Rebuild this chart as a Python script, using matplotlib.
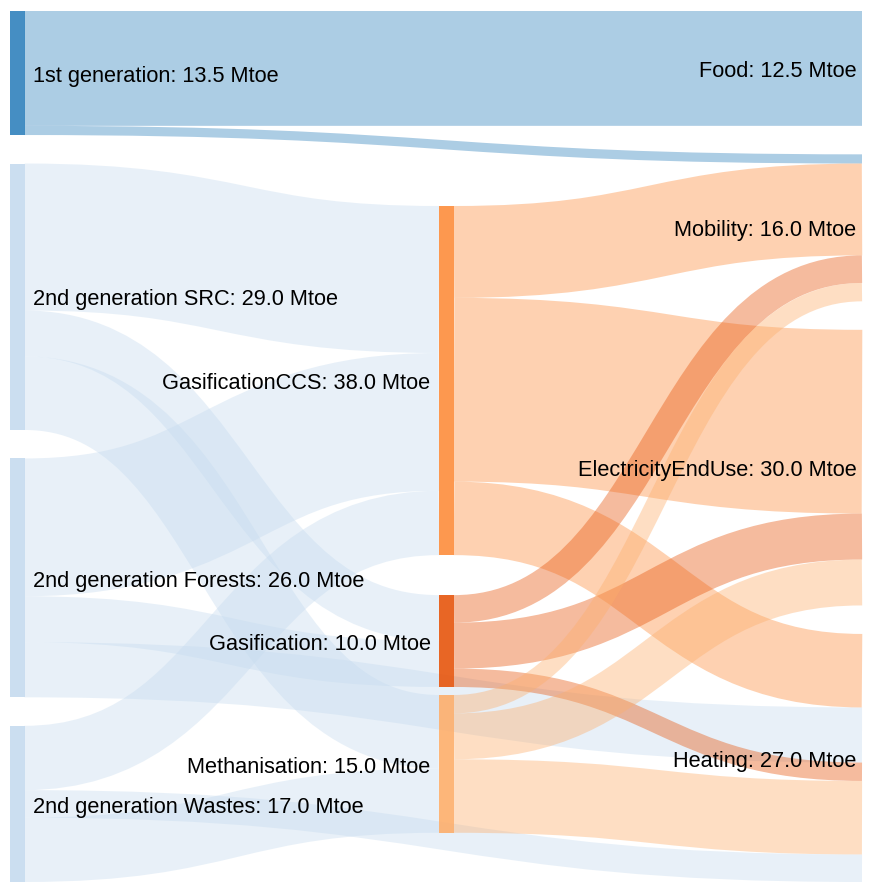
import matplotlib
matplotlib.use("Agg")
import matplotlib.pyplot as plt
from matplotlib.path import Path
from matplotlib.patches import PathPatch, Rectangle

# nodes
node_names = ["1st generation", "2nd generation SRC", "2nd generation Forests",
              "2nd generation Wastes", "GasificationCCS", "Gasification",
              "Methanisation", "Food", "Mobility", "ElectricityEndUse", "Heating"]
node_column = [0, 0, 0, 0, 1, 1, 1, 2, 2, 2, 2]

# links (Mtoe)
link_source = [0, 0, 1, 1, 1, 2, 2, 2, 3, 3, 3,
               4, 4, 4, 5, 5, 5, 6, 6, 6]
link_target = [7, 8, 4, 5, 6, 4, 5, 10, 4, 6, 10,
               8, 9, 10, 8, 9, 10, 8, 9, 10]
link_value = [12.5, 1.0, 16.0, 5.0, 8.0, 15.0, 5.0, 6.0, 7.0, 7.0, 3.0,
              10.0, 20.0, 8.0, 3.0, 5.0, 2.0, 2.0, 5.0, 8.0]

# style
node_colors = ["#3182bd", "#c6dbef", "#c6dbef", "#c6dbef", "#fd8d3c",
               "#e6550d", "#fdae6b", "#3182bd", "#fd8d3c", "#fd8d3c", "#fd8d3c"]
W, H, DPI = 871, 887, 100
node_w = 15
col_x = [9.5, 439, 862]
top, bottom, gap = 12, 883, 28.5
mid_start, mid_gaps = 207, [40, 8]

plt.rcParams["font.family"] = ["Liberation Sans", "DejaVu Sans"]
font_px = 21.8

n = len(node_names)
out_sum = [0.0] * n
in_sum = [0.0] * n
for s, t, v in zip(link_source, link_target, link_value):
    out_sum[s] += v
    in_sum[t] += v
node_value = [max(a, b) for a, b in zip(out_sum, in_sum)]

left_total = sum(v for v, c in zip(node_value, node_column) if c == 0)
left_count = node_column.count(0)
k = (bottom - top - (left_count - 1) * gap) / left_total

# vertical placement
y0 = [0.0] * n
y_left, y_right = top, top
y_mid = mid_start
mid_i = 0
for i in range(n):
    if node_column[i] == 0:
        y0[i] = y_left
        y_left += node_value[i] * k + gap
    elif node_column[i] == 2:
        y0[i] = y_right
        y_right += node_value[i] * k + gap
    else:
        y0[i] = y_mid
        y_mid += node_value[i] * k
        if mid_i < len(mid_gaps):
            y_mid += mid_gaps[mid_i]
        mid_i += 1
y1 = [y0[i] + node_value[i] * k for i in range(n)]

# link offsets (sources ordered by target y, targets ordered by source y)
links = list(range(len(link_value)))
sy = {}
ty = {}
for i in range(n):
    outs = sorted([l for l in links if link_source[l] == i], key=lambda l: y0[link_target[l]])
    off = 0.0
    for l in outs:
        sy[l] = off
        off += link_value[l] * k
    ins = sorted([l for l in links if link_target[l] == i], key=lambda l: y0[link_source[l]])
    off = 0.0
    for l in ins:
        ty[l] = off
        off += link_value[l] * k

fig = plt.figure(figsize=(W / DPI, H / DPI), dpi=DPI)
ax = fig.add_axes([0, 0, 1, 1])
ax.set_xlim(0, W)
ax.set_ylim(H, 0)
ax.axis("off")

for l in links:
    s, t = link_source[l], link_target[l]
    dy = link_value[l] * k
    xa = col_x[node_column[s]] + node_w
    xb = col_x[node_column[t]]
    ya = y0[s] + sy[l] + dy / 2
    yb = y0[t] + ty[l] + dy / 2
    xm = xa + 0.5 * (xb - xa)
    path = Path([(xa, ya), (xm, ya), (xm, yb), (xb, yb)],
                [Path.MOVETO, Path.CURVE4, Path.CURVE4, Path.CURVE4])
    patch = PathPatch(path, fill=False, edgecolor=node_colors[s], alpha=0.4,
                      lw=dy * 72 / DPI, zorder=1)
    patch.set_capstyle("butt")
    ax.add_patch(patch)

for i in range(n):
    c = node_column[i]
    if c < 2:
        ax.add_patch(Rectangle((col_x[c], y0[i]), node_w, y1[i] - y0[i],
                               facecolor=node_colors[i], alpha=0.9, lw=0, zorder=2))
    label = f"{node_names[i]}: {node_value[i]:.1f} Mtoe"
    yc = (y0[i] + y1[i]) / 2 + 0.35 * font_px
    fs = font_px * 72 / DPI
    if c == 0:
        ax.text(col_x[c] + node_w + 8, yc, label, ha="left", va="baseline",
                fontsize=fs, color="black", zorder=3)
    elif c == 1:
        ax.text(col_x[c] - 8.5, yc, label, ha="right", va="baseline",
                fontsize=fs, color="black", zorder=3)
    else:
        ax.text(col_x[c] - 5.5, yc, label, ha="right", va="baseline",
                fontsize=fs, color="black", zorder=3)

fig.savefig("out.png", dpi=DPI)
